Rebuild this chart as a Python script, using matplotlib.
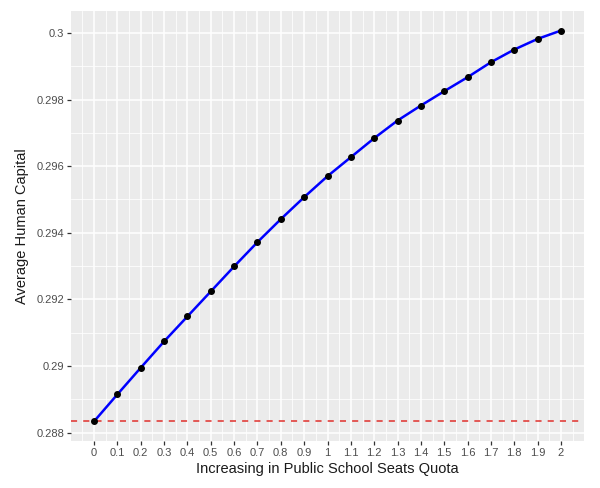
import matplotlib
matplotlib.use("Agg")
import matplotlib.pyplot as plt
from matplotlib.ticker import FixedLocator

quota = [0.0, 0.1, 0.2, 0.3, 0.4, 0.5, 0.6, 0.7, 0.8, 0.9, 1.0,
         1.1, 1.2, 1.3, 1.4, 1.5, 1.6, 1.7, 1.8, 1.9, 2.0]
human_capital = [0.28834, 0.28915, 0.28995, 0.29074, 0.29149, 0.29224,
                 0.29299, 0.29372, 0.29441, 0.29507, 0.29570, 0.29627,
                 0.29684, 0.29737, 0.29782, 0.29825, 0.29867, 0.29912,
                 0.29950, 0.29982, 0.30007]
baseline = 0.28834
x_ticks = quota
x_tick_labels = ["0", "0.1", "0.2", "0.3", "0.4", "0.5", "0.6", "0.7", "0.8",
                 "0.9", "1", "1.1", "1.2", "1.3", "1.4", "1.5", "1.6", "1.7",
                 "1.8", "1.9", "2"]
y_ticks = [0.288, 0.290, 0.292, 0.294, 0.296, 0.298, 0.300]
y_tick_labels = ["0.288", "0.29", "0.292", "0.294", "0.296", "0.298", "0.3"]

plt.rcParams['font.family'] = ['Liberation Sans', 'DejaVu Sans']

fig = plt.figure(figsize=(6.0, 4.88), dpi=100)
ax = fig.add_axes([0.1177, 0.0963, 0.974 - 0.1177, 0.9775 - 0.0963])
ax.set_facecolor('#EBEBEB')
for s in ax.spines.values():
    s.set_visible(False)

xmin, xmax = min(quota), max(quota)
dx = (xmax - xmin) * 0.05
ymin, ymax = min(human_capital), max(human_capital)
dy = (ymax - ymin) * 0.05
ax.set_xlim(xmin - dx, xmax + dx)
ax.set_ylim(ymin - dy, ymax + dy)

ax.xaxis.set_major_locator(FixedLocator(x_ticks))
ax.set_xticklabels(x_tick_labels)
ax.xaxis.set_minor_locator(FixedLocator([v + 0.05 for v in quota[:-1]] + [-0.05, 2.05]))
ax.yaxis.set_major_locator(FixedLocator(y_ticks))
ax.set_yticklabels(y_tick_labels)
ax.yaxis.set_minor_locator(FixedLocator([0.289, 0.291, 0.293, 0.295, 0.297, 0.299]))

ax.grid(which='major', color='white', linewidth=1.1)
ax.grid(which='minor', color='white', linewidth=0.55)
ax.set_axisbelow(True)
ax.tick_params(which='major', length=2.75, width=0.9, color='#333333',
               labelcolor='#4D4D4D', labelsize=8, pad=2)
ax.tick_params(which='minor', length=0)

ax.axhline(baseline, color='#E0302C', linestyle=(0, (4, 4)), linewidth=1.1, zorder=2)
ax.plot(quota, human_capital, color='#0000FF', linewidth=1.8, zorder=3)
ax.scatter(quota, human_capital, color='black', s=16, zorder=4)

ax.set_xlabel('Increasing in Public School Seats Quota', fontsize=10.5, color='#1A1A1A', labelpad=3)
ax.set_ylabel('Average Human Capital', fontsize=10.5, color='#1A1A1A', labelpad=5)

fig.savefig('out.png', dpi=100)
